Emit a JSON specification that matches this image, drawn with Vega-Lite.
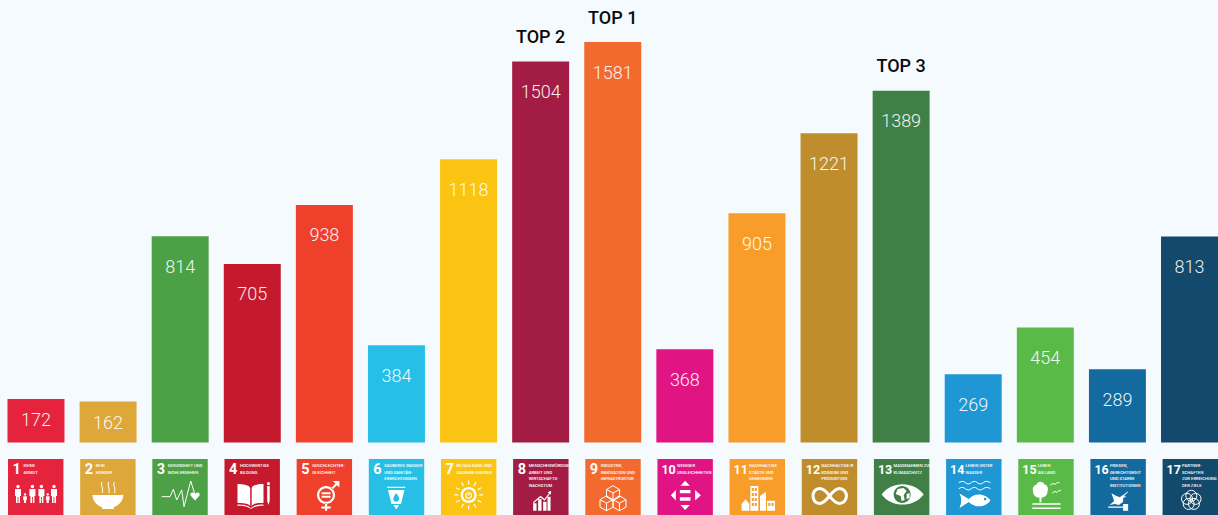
{
  "$schema": "https://vega.github.io/schema/vega-lite/v6.json",
  "background": "#f5faff",
  "padding": 0,
  "spacing": 16,
  "config": {"view": {"stroke": null}, "font": "Roboto"},
  "datasets": {
    "goals": [
      {"goal": 1, "count": 172},
      {"goal": 2, "count": 162},
      {"goal": 3, "count": 814},
      {"goal": 4, "count": 705},
      {"goal": 5, "count": 938},
      {"goal": 6, "count": 384},
      {"goal": 7, "count": 1118},
      {"goal": 8, "count": 1504, "rank": "TOP 2"},
      {"goal": 9, "count": 1581, "rank": "TOP 1"},
      {"goal": 10, "count": 368},
      {"goal": 11, "count": 905},
      {"goal": 12, "count": 1221},
      {"goal": 13, "count": 1389, "rank": "TOP 3"},
      {"goal": 14, "count": 269},
      {"goal": 15, "count": 454},
      {"goal": 16, "count": 289},
      {"goal": 17, "count": 813}
    ],
    "captions": [
      {"goal": 1, "line": 1, "text": "KEINE"},
      {"goal": 1, "line": 2, "text": "ARMUT"},
      {"goal": 2, "line": 1, "text": "KEIN"},
      {"goal": 2, "line": 2, "text": "HUNGER"},
      {"goal": 3, "line": 1, "text": "GESUNDHEIT UND"},
      {"goal": 3, "line": 2, "text": "WOHLERGEHEN"},
      {"goal": 4, "line": 1, "text": "HOCHWERTIGE"},
      {"goal": 4, "line": 2, "text": "BILDUNG"},
      {"goal": 5, "line": 1, "text": "GESCHLECHTER-"},
      {"goal": 5, "line": 2, "text": "GLEICHHEIT"},
      {"goal": 6, "line": 1, "text": "SAUBERES WASSER"},
      {"goal": 6, "line": 2, "text": "UND SANITÄR-"},
      {"goal": 6, "line": 3, "text": "EINRICHTUNGEN"},
      {"goal": 7, "line": 1, "text": "BEZAHLBARE UND"},
      {"goal": 7, "line": 2, "text": "SAUBERE ENERGIE"},
      {"goal": 8, "line": 1, "text": "MENSCHENWÜRDIGE"},
      {"goal": 8, "line": 2, "text": "ARBEIT UND"},
      {"goal": 8, "line": 3, "text": "WIRTSCHAFTS-"},
      {"goal": 8, "line": 4, "text": "WACHSTUM"},
      {"goal": 9, "line": 1, "text": "INDUSTRIE,"},
      {"goal": 9, "line": 2, "text": "INNOVATION UND"},
      {"goal": 9, "line": 3, "text": "INFRASTRUKTUR"},
      {"goal": 10, "line": 1, "text": "WENIGER"},
      {"goal": 10, "line": 2, "text": "UNGLEICHHEITEN"},
      {"goal": 11, "line": 1, "text": "NACHHALTIGE"},
      {"goal": 11, "line": 2, "text": "STÄDTE UND"},
      {"goal": 11, "line": 3, "text": "GEMEINDEN"},
      {"goal": 12, "line": 1, "text": "NACHHALTIGE/R"},
      {"goal": 12, "line": 2, "text": "KONSUM UND"},
      {"goal": 12, "line": 3, "text": "PRODUKTION"},
      {"goal": 13, "line": 1, "text": "MASSNAHMEN ZUM"},
      {"goal": 13, "line": 2, "text": "KLIMASCHUTZ"},
      {"goal": 14, "line": 1, "text": "LEBEN UNTER"},
      {"goal": 14, "line": 2, "text": "WASSER"},
      {"goal": 15, "line": 1, "text": "LEBEN"},
      {"goal": 15, "line": 2, "text": "AN LAND"},
      {"goal": 16, "line": 1, "text": "FRIEDEN,"},
      {"goal": 16, "line": 2, "text": "GERECHTIGKEIT"},
      {"goal": 16, "line": 3, "text": "UND STARKE"},
      {"goal": 16, "line": 4, "text": "INSTITUTIONEN"},
      {"goal": 17, "line": 1, "text": "PARTNER-"},
      {"goal": 17, "line": 2, "text": "SCHAFTEN"},
      {"goal": 17, "line": 3, "text": "ZUR ERREICHUNG"},
      {"goal": 17, "line": 4, "text": "DER ZIELE"}
    ],
    "icons": [
      {"goal": 1, "glyph": "people", "ink": "solid"},
      {"goal": 2, "glyph": "bowl", "ink": "solid"},
      {"goal": 3, "glyph": "pulse", "ink": "thin"},
      {"goal": 3, "glyph": "heart", "ink": "solid"},
      {"goal": 4, "glyph": "book", "ink": "solid"},
      {"goal": 5, "glyph": "gender", "ink": "solid"},
      {"goal": 6, "glyph": "glass", "ink": "solid"},
      {"goal": 7, "glyph": "sun", "ink": "solid"},
      {"goal": 8, "glyph": "growth", "ink": "solid"},
      {"goal": 9, "glyph": "cubes", "ink": "thin"},
      {"goal": 10, "glyph": "arrows", "ink": "solid"},
      {"goal": 11, "glyph": "city", "ink": "solid"},
      {"goal": 12, "glyph": "infinity", "ink": "thick"},
      {"goal": 13, "glyph": "eye", "ink": "solid"},
      {"goal": 14, "glyph": "waves", "ink": "thin"},
      {"goal": 14, "glyph": "fish", "ink": "solid"},
      {"goal": 15, "glyph": "tree", "ink": "solid"},
      {"goal": 15, "glyph": "birds", "ink": "thin"},
      {"goal": 16, "glyph": "dove", "ink": "solid"},
      {"goal": 17, "glyph": "flower", "ink": "thin"}
    ]
  },
  "vconcat": [
    {
      "width": 1218,
      "height": 443,
      "data": {"name": "goals"},
      "encoding": {
        "x": {
          "field": "goal",
          "type": "ordinal",
          "axis": null,
          "scale": {"range": [7.5, 1218], "paddingInner": 0.2097, "paddingOuter": 0}
        },
        "y": {
          "field": "count",
          "type": "quantitative",
          "axis": null,
          "scale": {"domain": [0, 1581], "range": [442.5, 42], "nice": false}
        }
      },
      "layer": [
        {
          "mark": {"type": "bar"},
          "encoding": {
            "color": {
              "field": "goal",
              "type": "ordinal",
              "legend": null,
              "scale": {
                "domain": [1, 2, 3, 4, 5, 6, 7, 8, 9, 10, 11, 12, 13, 14, 15, 16, 17],
                "range": ["#e5233d", "#dda73a", "#4ca146", "#c5192d", "#ef402c", "#27bfe6", "#fbc412", "#a31c44", "#f26a2e", "#e01483", "#f89d2a", "#bf8d2c", "#407f46", "#1f97d4", "#59ba48", "#126a9f", "#13496b"]
              }
            }
          }
        },
        {
          "transform": [{"filter": "datum.count >= 200"}],
          "mark": {"type": "text", "baseline": "middle", "fontSize": 18, "fontWeight": 300, "dy": 31.5, "color": "#ffffff", "opacity": 0.92},
          "encoding": {"text": {"field": "count", "type": "quantitative"}}
        },
        {
          "transform": [{"filter": "datum.count < 200"}],
          "mark": {"type": "text", "baseline": "middle", "fontSize": 18, "fontWeight": 300, "dy": 22.5, "color": "#ffffff", "opacity": 0.92},
          "encoding": {"text": {"field": "count", "type": "quantitative"}}
        },
        {
          "transform": [{"filter": "isValid(datum.rank)"}],
          "mark": {"type": "text", "baseline": "middle", "fontSize": 18, "fontWeight": 500, "dy": -23.5, "color": "#0a0a0a"},
          "encoding": {"text": {"field": "rank", "type": "nominal"}}
        }
      ]
    },
    {
      "width": 1218,
      "height": 56,
      "encoding": {
        "x": {
          "field": "goal",
          "type": "ordinal",
          "axis": null,
          "scale": {"range": [8, 1218], "paddingInner": 0.232, "paddingOuter": 0}
        }
      },
      "layer": [
        {
          "data": {"name": "goals"},
          "mark": {"type": "bar"},
          "encoding": {
            "color": {
              "field": "goal",
              "type": "ordinal",
              "legend": null,
              "scale": {
                "domain": [1, 2, 3, 4, 5, 6, 7, 8, 9, 10, 11, 12, 13, 14, 15, 16, 17],
                "range": ["#e5233d", "#dda73a", "#4ca146", "#c5192d", "#ef402c", "#27bfe6", "#fbc412", "#a31c44", "#f26a2e", "#e01483", "#f89d2a", "#bf8d2c", "#407f46", "#1f97d4", "#59ba48", "#126a9f", "#13496b"]
              }
            }
          }
        },
        {
          "data": {"name": "goals"},
          "transform": [{"filter": "datum.goal < 10"}],
          "mark": {"type": "text", "align": "left", "baseline": "middle", "fontWeight": "bold", "fontSize": 14.5, "dx": 4.5, "color": "#ffffff"},
          "encoding": {
            "x": {"field": "goal", "type": "ordinal", "bandPosition": 0, "axis": null},
            "y": {"datum": 1.6, "type": "quantitative", "axis": null, "scale": {"domain": [0, 8], "range": [0.3, 53.9], "nice": false, "zero": false}},
            "text": {"field": "goal", "type": "ordinal"}
          }
        },
        {
          "data": {"name": "goals"},
          "transform": [{"filter": "datum.goal >= 10"}],
          "mark": {"type": "text", "align": "left", "baseline": "middle", "fontWeight": "bold", "fontSize": 12.5, "dx": 4, "color": "#ffffff"},
          "encoding": {
            "x": {"field": "goal", "type": "ordinal", "bandPosition": 0, "axis": null},
            "y": {"datum": 1.6, "type": "quantitative", "axis": null},
            "text": {"field": "goal", "type": "ordinal"}
          }
        },
        {
          "data": {"name": "captions"},
          "transform": [{"filter": "datum.goal < 10"}],
          "mark": {"type": "text", "align": "left", "baseline": "middle", "fontWeight": 500, "fontSize": 4.2, "dx": 15.5, "color": "#ffffff"},
          "encoding": {
            "x": {"field": "goal", "type": "ordinal", "bandPosition": 0, "axis": null},
            "y": {"field": "line", "type": "quantitative", "axis": null},
            "text": {"field": "text", "type": "nominal"}
          }
        },
        {
          "data": {"name": "captions"},
          "transform": [{"filter": "datum.goal >= 10"}],
          "mark": {"type": "text", "align": "left", "baseline": "middle", "fontWeight": 500, "fontSize": 4.2, "dx": 19.5, "color": "#ffffff"},
          "encoding": {
            "x": {"field": "goal", "type": "ordinal", "bandPosition": 0, "axis": null},
            "y": {"field": "line", "type": "quantitative", "axis": null},
            "text": {"field": "text", "type": "nominal"}
          }
        },
        {
          "data": {"name": "icons"},
          "transform": [{"filter": "datum.ink === 'solid'"}],
          "mark": {"type": "point", "filled": true, "opacity": 1, "color": "#ffffff", "strokeWidth": 0, "size": 4},
          "encoding": {
            "y": {"datum": 4.13, "type": "quantitative", "axis": null},
            "shape": {
              "field": "glyph",
              "type": "nominal",
              "legend": null,
              "scale": {
                "domain": ["people", "bowl", "heart", "book", "gender", "glass", "sun", "growth", "arrows", "city", "eye", "fish", "tree", "dove", "pulse", "cubes", "waves", "birds", "flower", "infinity"],
                "range": [
                  "M-19.4 -0.4a1.7 1.7 0 1 0 3.4 0a1.7 1.7 0 1 0 -3.4 0ZM-20.7 2L-14.7 2L-14.7 9L-15.7 9L-15.7 16L-17.3 16L-17.3 10L-18.1 10L-18.1 16L-19.7 16L-19.7 9L-20.7 9ZM-5 -0.4a1.7 1.7 0 1 0 3.4 0a1.7 1.7 0 1 0 -3.4 0ZM-6.3 2L-0.3 2L-0.3 9L-1.3 9L-1.3 16L-2.9 16L-2.9 10L-3.7 10L-3.7 16L-5.3 16L-5.3 9L-6.3 9ZM4 -0.4a1.7 1.7 0 1 0 3.4 0a1.7 1.7 0 1 0 -3.4 0ZM2.7 2L8.7 2L8.7 9L7.7 9L7.7 16L6.1 16L6.1 10L5.3 10L5.3 16L3.7 16L3.7 9L2.7 9ZM16.6 -0.4a1.7 1.7 0 1 0 3.4 0a1.7 1.7 0 1 0 -3.4 0ZM15.3 2L21.3 2L21.3 9L20.3 9L20.3 16L18.7 16L18.7 10L17.9 10L17.9 16L16.3 16L16.3 9L15.3 9ZM-11.9 7.6a1.2 1.2 0 1 0 2.4 0a1.2 1.2 0 1 0 -2.4 0ZM-12.5 9.4L-8.9 9.4L-8.9 13L-9.6 13L-9.6 16L-11.8 16L-11.8 13L-12.5 13ZM10.8 7.6a1.2 1.2 0 1 0 2.4 0a1.2 1.2 0 1 0 -2.4 0ZM10.2 9.4L13.8 9.4L13.8 13L13.1 13L13.1 16L10.9 16L10.9 13L10.2 13Z",
                  "M-15.5 8L15.5 8C15 15 10 19 6 20L6 22L-6 22L-6 20C-10 19 -15 15 -15.5 8ZM-6.3 -5C-8.3 -2 -4.3 1 -6.3 6L-5.3 6C-3.3 1 -7.3 -2 -5.3 -5ZM0.3 -5C-1.7 -2 2.3 1 0.3 6L1.3 6C3.3 1 -0.7 -2 1.3 -5ZM6 -5C4 -2 8 1 6 6L7 6C9 1 5 -2 7 -5Z",
                  "M15 13.5L10.5 8.5C9.5 6 12.5 4 15 7C17.5 4 20.5 6 19.5 8.5Z",
                  "M-14.7 -3C-9 -3 -3 -2 -2 1L-2 19C-4 16 -10 16 -14.7 16ZM-0.5 1C0.5 -2 6 -3 11.3 -3L11.3 16C6 16 1 16 -0.5 19ZM-14.7 17.5C-9 17.5 -4 18 -1.2 21.3C1.5 18 6 17.5 11.3 17.5L11.3 18.8C7 18.8 2.5 19 -1.2 22C-5 19 -10 18.8 -14.7 18.8ZM15 -1L17.5 -1L17.5 14L16.25 18L15 14ZM15 -4.7L17.5 -4.7L17.5 -2L15 -2Z",
                  "M-7.3 8a9 9 0 1 0 18 0a9 9 0 1 0 -18 0ZM-5.1 8a6.8 6.8 0 1 1 13.6 0a6.8 6.8 0 1 1 -13.6 0ZM-2.8 5.3L6.2 5.3L6.2 7.2L-2.8 7.2ZM-2.8 8.8L6.2 8.8L6.2 10.7L-2.8 10.7ZM6.5 1.2L11.5 -3.8L13 -2.3L8 2.7ZM8.5 -6L15 -6L15 0.5ZM0.6 16.5L2.8 16.5L2.8 19.5L6.4 19.5L6.4 21.5L2.8 21.5L2.8 23.7L0.6 23.7L0.6 21.5L-3 21.5L-3 19.5L0.6 19.5Z",
                  "M-9.3 -0.3L8.7 -0.3L8.7 1L-9.3 1ZM-8.5 3L7.9 3L4.5 17L-5 17ZM-0.3 6C-2 8.5 -3.2 10 -3.2 11.8C-3.2 13.6 -2 14.8 -0.3 14.8C1.4 14.8 2.6 13.6 2.6 11.8C2.6 10 1.4 8.5 -0.3 6ZM-3 18L2.5 18L-0.2 22.5Z",
                  "M-8 8a8 8 0 1 0 16 0a8 8 0 1 0 -16 0ZM-5.6 8a5.6 5.6 0 1 1 11.2 0a5.6 5.6 0 1 1 -11.2 0ZM-3.4 8.5a3.4 3.4 0 1 0 6.8 0a3.4 3.4 0 1 0 -6.8 0ZM-2.2 8.5a2.2 2.2 0 1 1 4.4 0a2.2 2.2 0 1 1 -4.4 0ZM-0.6 4.5L0.6 4.5L0.6 8.5L-0.6 8.5ZM10.5 7.4L14.5 7.4L14.5 8.6L10.5 8.6ZM-14.5 7.4L-10.5 7.4L-10.5 8.6L-14.5 8.6ZM-0.6 18.5L0.6 18.5L0.6 22.5L-0.6 22.5ZM-0.6 -6.5L0.6 -6.5L0.6 -2.5L-0.6 -2.5ZM8.79 13.77L12.26 15.77L12.86 14.73L9.39 12.73ZM8.79 2.23L12.26 0.23L12.86 1.27L9.39 3.27ZM-8.79 13.77L-12.26 15.77L-12.86 14.73L-9.39 12.73ZM-8.79 2.23L-12.26 0.23L-12.86 1.27L-9.39 3.27ZM4.73 17.39L6.73 20.86L7.77 20.26L5.77 16.79ZM4.73 -1.39L6.73 -4.86L7.77 -4.26L5.77 -0.79ZM-4.73 17.39L-6.73 20.86L-7.77 20.26L-5.77 16.79ZM-4.73 -1.39L-6.73 -4.86L-7.77 -4.26L-5.77 -0.79Z",
                  "M-7.7 16.3L-4.3 16.3L-4.3 23.7L-7.7 23.7ZM-2.7 12.3L0.7 12.3L0.7 23.7L-2.7 23.7ZM2.3 14.7L5.7 14.7L5.7 23.7L2.3 23.7ZM6.7 9.7L9.7 9.7L9.7 23.7L6.7 23.7ZM-7.7 15L-0.3 8.8L3.7 12L8.2 6.2L6.8 5.3L10.2 3.8L10.2 7.8L9.2 6.9L3.8 13.8L-0.3 10.6L-7.7 16.6Z",
                  "M-4.7 -1.3L0 -6.3L4.7 -1.3ZM-4.7 18L4.7 18L0 23ZM-14.3 8.3L-9.3 3L-9.3 13.5ZM15.7 8.3L10 3L10 13.5ZM-5.3 3L5.3 3L5.3 6.3L-5.3 6.3ZM-5.3 10.3L5.3 10.3L5.3 13.7L-5.3 13.7Z",
                  "M-15.7 17L-11.8 12.3L-8 17L-8 23.7L-15.7 23.7ZM-7 -1L1 -1L1 23.7L-7 23.7ZM-5.5 1L-5.5 4L-3.5 4L-3.5 1ZM-2.5 1L-2.5 4L-0.5 4L-0.5 1ZM-5.5 6L-5.5 9L-3.5 9L-3.5 6ZM-2.5 6L-2.5 9L-0.5 9L-0.5 6ZM-5.5 11L-5.5 14L-3.5 14L-3.5 11ZM-2.5 11L-2.5 14L-0.5 14L-0.5 11ZM-5.5 16L-5.5 19L-3.5 19L-3.5 16ZM-2.5 16L-2.5 19L-0.5 19L-0.5 16ZM2.7 9L8.7 4.7L8.7 23.7L2.7 23.7ZM9.7 13.7L17.7 13.7L17.7 23.7L9.7 23.7ZM11 16L11 19L13 19L13 16ZM14.3 16L14.3 19L16.3 19L16.3 16Z",
                  "M-20 7.5C-10 -6 12 -6 22 7.5C12 21 -10 21 -20 7.5ZM-8 7.5a8.5 8.5 0 1 0 17 0a8.5 8.5 0 1 0 -17 0ZM-4 2L2 1L5 4L2 8L3 13L0 14L-1 9L-6 7ZM5 7L8 6L8 11L5 12Z",
                  "M16.7 13.5C12 7 2 5 -5 12L-14.3 6.5C-12 11 -12 16 -14.3 21L-5 15C2 22 12 20 16.7 13.5ZM10 12a1.3 1.3 0 1 1 2.6 0a1.3 1.3 0 1 1 -2.6 0Z",
                  "M-13 4C-14 0 -11 -2 -9 -3C-8 -6 -3 -6 -2 -3C1 -2 3 1 1.5 4C2 8 -2 11 -4.5 10.5L-4.5 15.3L-6.5 15.3L-6.5 10.5C-10 11 -13 8 -13 4ZM-13.7 16.2L14.7 16.2L14.7 17.8L-13.7 17.8ZM-13.7 20.5L14.7 20.5L14.7 22.1L-13.7 22.1Z",
                  "M-6.7 6.3L-1.7 9L1.7 10.3L4 8.5L8.3 9.7L5 11L5 14.7L0.7 18L-3.3 17L-8.5 18L-4 14L-5 11ZM2.5 10L9.5 4.5L10 5L4 10.8ZM-10 19.5L8 19.5L8 20.8L-10 20.8ZM5 17L10 17L10 23.7L5 23.7Z",
                  "M-18.3 9.7L-10 9.7L-6.7 2.3L-3.3 13L1.7 3L4 19.7L10.7 -6L15 8",
                  "M0 -1.3L6.5 2.5L6.5 10L0 13.5L-6.5 10L-6.5 2.5ZM-6.5 2.5L0 6L6.5 2.5M0 6L0 13.5M-6.5 8.9L0 12.7L0 20.2L-6.5 23.7L-13 20.2L-13 12.7ZM-13 12.7L-6.5 16.2L0 12.7M-6.5 16.2L-6.5 23.7M6.5 8.9L13 12.7L13 20.2L6.5 23.7L0 20.2L0 12.7ZM0 12.7L6.5 16.2L13 12.7M6.5 16.2L6.5 23.7",
                  "M-15 -4.3C-12.5 -6 -10.5 -6 -8.5 -4.3C-6.5 -2.6 -4.5 -2.6 -2.5 -4.3C-0.5 -6 1.5 -6 3.5 -4.3C5.5 -2.6 7.5 -2.6 9.5 -4.3C11.5 -6 14 -6 16.7 -4.3M-15 1.7C-12.5 0 -10.5 0 -8.5 1.7C-6.5 3.4 -4.5 3.4 -2.5 1.7C-0.5 0 1.5 0 3.5 1.7C5.5 3.4 7.5 3.4 9.5 1.7C11.5 0 14 0 16.7 1.7",
                  "M4 -1.5C6 -3.8 8 -3.8 9 -2.5C10.5 -4.5 12.5 -4.5 13.5 -4.5M6 6.5C8 4.2 10 4.2 11 5.5C12.5 3.5 14 3.5 15 3.5",
                  "M-4.5 8.8a5.5 5.5 0 1 0 11 0a5.5 5.5 0 1 0 -11 0ZM-0.22 11.9a5.5 5.5 0 1 0 11 0a5.5 5.5 0 1 0 -11 0ZM-1.85 16.94a5.5 5.5 0 1 0 11 0a5.5 5.5 0 1 0 -11 0ZM-7.15 16.94a5.5 5.5 0 1 0 11 0a5.5 5.5 0 1 0 -11 0ZM-8.78 11.9a5.5 5.5 0 1 0 11 0a5.5 5.5 0 1 0 -11 0Z",
                  "M0 9C-4 3 -7 1.5 -10 1.5C-14 1.5 -16.5 5 -16.5 9C-16.5 13 -14 16.5 -10 16.5C-7 16.5 -3.5 13.5 0 9C3.5 4.5 7 1.5 10 1.5C14 1.5 17 5 17 9C17 13 14 16.5 10 16.5C7 16.5 4 14.5 0 9Z"
                ]
              }
            }
          }
        },
        {
          "data": {"name": "icons"},
          "transform": [{"filter": "datum.ink === 'thin'"}],
          "mark": {"type": "point", "filled": false, "opacity": 1, "color": "#ffffff", "strokeWidth": 1, "size": 4},
          "encoding": {
            "y": {"datum": 4.13, "type": "quantitative", "axis": null},
            "shape": {"field": "glyph", "type": "nominal", "legend": null}
          }
        },
        {
          "data": {"name": "icons"},
          "transform": [{"filter": "datum.ink === 'thick'"}],
          "mark": {"type": "point", "filled": false, "opacity": 1, "color": "#ffffff", "strokeWidth": 3, "size": 4},
          "encoding": {
            "y": {"datum": 4.13, "type": "quantitative", "axis": null},
            "shape": {"field": "glyph", "type": "nominal", "legend": null}
          }
        }
      ]
    }
  ]
}
